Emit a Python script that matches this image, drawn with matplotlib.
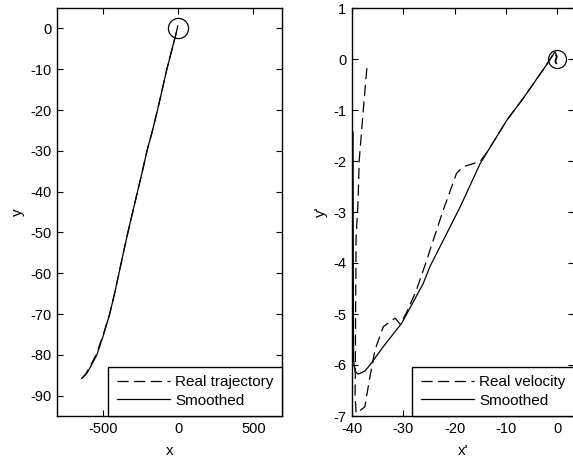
import matplotlib
matplotlib.use('Agg')
import matplotlib.pyplot as plt
import numpy as np

plt.rcParams['font.family'] = ['Liberation Sans', 'DejaVu Sans']
plt.rcParams['font.size'] = 10.5
plt.rcParams['axes.unicode_minus'] = False
plt.rcParams['lines.scale_dashes'] = False

# trajectory (left panel)
traj_real_x = [-640, -612, -588, -545, -497, -455, -422, -393, -364, -334, -270, -237, -207, -171, -137, -75, -40, -8, 0]
traj_real_y = [-85.8, -84.6, -83.0, -80.0, -75.0, -70.0, -64.9, -60.0, -55.0, -50.0, -40.0, -34.9, -30.0, -25.1, -20.0, -10.0, -5.0, -0.5, 0.0]
traj_smooth_x = [-640, -608, -583, -540, -495, -455, -422, -393, -364, -334, -270, -237, -207, -171, -137, -75, -40, -6, -3]
traj_smooth_y = [-85.8, -84.6, -83.0, -80.0, -75.0, -70.0, -64.9, -60.0, -55.0, -50.0, -40.0, -34.9, -30.0, -25.1, -20.0, -10.0, -5.0, 0.0, 0.6]

# velocity (right panel)
vel_real_x = [-37.1, -37.8, -38.6, -38.8, -39.2, -39.3, -39.35, -39.4, -39.2, -38.5, -37.5, -36.5,
              -35.5, -33.9, -31.6, -30.6, -29.5, -27.5, -25.4, -24.8, -22.2, -19.6, -18.3, -16.3,
              -15.0, -13.5, -9.8, -6.6, -2.3, -0.6, -0.1, -0.4, -0.1]
vel_real_y = [-0.18, -1.0, -2.0, -2.75, -3.5, -5.0, -6.0, -6.6, -6.94, -6.9, -6.82, -6.23,
              -5.7, -5.25, -5.08, -5.2, -5.0, -4.55, -3.94, -3.75, -2.96, -2.24, -2.11, -2.05,
              -2.01, -1.8, -1.2, -0.77, -0.15, 0.12, 0.05, -0.05, -0.1]
vel_smooth_x = [-39.8, -39.75, -39.7, -39.4, -38.8, -37.5, -36.5, -33.9, -30.3, -26.1, -24.8,
                -18.9, -15.0, -9.8, -6.6, -2.3, -0.4, 0.0, -0.3, -0.1]
vel_smooth_y = [-1.43, -4.0, -5.9, -6.12, -6.18, -6.12, -6.0, -5.64, -5.18, -4.4, -4.07,
                -2.9, -2.05, -1.2, -0.77, -0.15, 0.14, 0.05, -0.05, -0.08]

fig = plt.figure(figsize=(5.73, 4.62), dpi=100)
W, H = 573.0, 462.0

def style(ax):
    ax.tick_params(direction='in', length=4, width=0.8, top=True, right=True, labelsize=10.5, pad=4)
    for s in ax.spines.values():
        s.set_linewidth(1.0)

def add_legend(ax):
    leg = ax.legend(loc='lower right', bbox_to_anchor=(1, 0), borderaxespad=0, fancybox=False,
                    edgecolor='black', framealpha=1, handlelength=3.5, handletextpad=0.33,
                    borderpad=0.55, labelspacing=0.3, fontsize=11)
    leg.get_frame().set_linewidth(1.0)

ax1 = fig.add_axes([57 / W, (H - 416) / H, (282 - 57) / W, (416 - 8) / H])
ax1.plot(traj_real_x, traj_real_y, color='black', lw=0.9, dashes=(8, 4), label='Real trajectory')
ax1.plot(traj_smooth_x, traj_smooth_y, color='black', lw=0.9, label='Smoothed')
ax1.plot([0], [0], 'o', mfc='none', mec='black', ms=14.5, mew=0.9)
ax1.set_xlim(-805, 690)
ax1.set_ylim(-95, 5)
ax1.set_xticks([-500, 0, 500])
ax1.set_yticks(np.arange(-90, 1, 10))
ax1.set_xlabel('x', labelpad=6, fontsize=11)
ax1.set_ylabel('y', labelpad=4, fontsize=11)
style(ax1)
add_legend(ax1)

ax2 = fig.add_axes([352 / W, (H - 416) / H, (574 - 352) / W, (416 - 8) / H])
ax2.plot(vel_real_x, vel_real_y, color='black', lw=0.9, dashes=(8, 4), label='Real velocity')
ax2.plot(vel_smooth_x, vel_smooth_y, color='black', lw=0.9, label='Smoothed')
ax2.plot([0], [0], 'o', mfc='none', mec='black', ms=13, mew=0.9)
ax2.set_xlim(-40, 3.3)
ax2.set_ylim(-7, 1)
ax2.set_xticks([-40, -30, -20, -10, 0])
ax2.set_yticks(np.arange(-7, 2, 1))
ax2.set_xlabel("x'", labelpad=6, fontsize=11)
ax2.set_ylabel("y'", labelpad=4, fontsize=11)
style(ax2)
add_legend(ax2)

fig.savefig('out.png', dpi=100)
